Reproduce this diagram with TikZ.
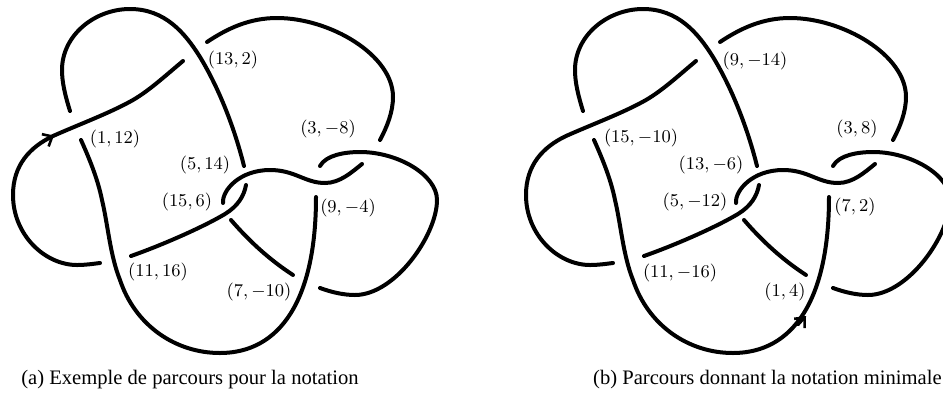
\documentclass[tikz,border=0pt]{standalone}
\usepackage{fontspec}
\setmainfont{Liberation Serif}
\usepackage{amsmath,amssymb}
\usetikzlibrary{arrows.meta,positioning}
\tikzset{
  strand/.style={line width=2pt,line cap=round,line join=round},
  crossing/.style={font=\fontsize{9.4}{11}\selectfont,inner sep=0pt},
  legend/.style={font=\fontsize{10.3}{12}\selectfont,inner sep=0pt,anchor=base},
  pointer/.style={line width=1.3pt,line cap=round,-{Straight Barb[length=4pt,width=7pt,line width=1.3pt]}}
}
\newcommand{\knotstrands}{
\draw[strand] (70,111) .. controls (65,95) and (62,82) .. (62,70) .. controls (62,35) and (95,9) .. (130,9) .. controls (165,9) and (185,33) .. (200,57) .. controls (220,90) and (235,130) .. (244,166);
\draw[strand] (183,61) .. controls (165,76) and (150,90) .. (133,100) .. controls (110,113) and (80,124) .. (53,136) .. controls (30,147) and (13,165) .. (13,195) .. controls (13,235) and (45,265) .. (77,265) .. controls (85,265) and (92,264) .. (100,263);
\draw[strand] (81,140) .. controls (90,160) and (98,180) .. (102,200) .. controls (108,225) and (110,255) .. (120,280) .. controls (135,325) and (175,353) .. (220,353) .. controls (280,353) and (316,300) .. (316,197);
\draw[strand] (131,256) .. controls (165,244) and (205,226) .. (225,214) .. controls (238,206) and (244,196) .. (246,185);
\draw[strand] (223,203) .. controls (222,190) and (240,170) .. (270,170) .. controls (295,170) and (305,183) .. (325,183) .. controls (340,183) and (352,172) .. (362,164);
\draw[strand] (320,166) .. controls (326,155) and (345,152) .. (360,152) .. controls (398,152) and (437,175) .. (437,200) .. controls (437,235) and (395,295) .. (355,295) .. controls (343,295) and (331,292) .. (320,288);
\draw[strand] (231,220) .. controls (250,242) and (270,260) .. (293,275);
\draw[strand] (207,42) .. controls (228,28) and (250,18) .. (277,18) .. controls (330,18) and (393,55) .. (393,97) .. controls (393,112) and (387,127) .. (380,140);
}
\begin{document}
\begin{tikzpicture}[x=0.5pt,y=-0.5pt]
\useasboundingbox (0,0) rectangle (943,398);
\clip (0,0) rectangle (943,398);
% left knot
\begin{scope}
\knotstrands
\coordinate (leftstart) at (44,141);
\coordinate (lefttip) at (54,135.5);
\draw[pointer] (leftstart)--(lefttip);
\end{scope}
\node[crossing] (a1) at (115,139) {$(1,12)$};
\node[crossing] (a13) at (233,60) {$(13,2)$};
\node[crossing] (a5) at (205,165) {$(5,14)$};
\node[crossing] (a15) at (187,202) {$(15,6)$};
\node[crossing] (a11) at (158,272) {$(11,16)$};
\node[crossing] (a7) at (259,292) {$(7,-10)$};
\node[crossing] (a9) at (348,208) {$(9,-4)$};
\node[crossing] (a3) at (328,129) {$(3,-8)$};
\node[legend] (captiona) at (190,384) {(a) Exemple de parcours pour la notation};
% right knot
\begin{scope}[xshift=256.5pt]
\knotstrands
\end{scope}
\coordinate (rightstart) at (798,325);
\coordinate (righttip) at (806,316);
\draw[pointer] (rightstart)--(righttip);
\node[crossing] (b15) at (641,138) {$(15,-10)$};
\node[crossing] (b9) at (755,61) {$(9,-14)$};
\node[crossing] (b13) at (711,165) {$(13,-6)$};
\node[crossing] (b5) at (695,202) {$(5,-12)$};
\node[crossing] (b11) at (680,273) {$(11,-16)$};
\node[crossing] (b1) at (785,292) {$(1,4)$};
\node[crossing] (b7) at (855,207) {$(7,2)$};
\node[crossing] (b3) at (857,129) {$(3,8)$};
\node[legend,anchor=base east] (captionb) at (942,384) {(b) Parcours donnant la notation minimale};
\end{tikzpicture}
\end{document}
